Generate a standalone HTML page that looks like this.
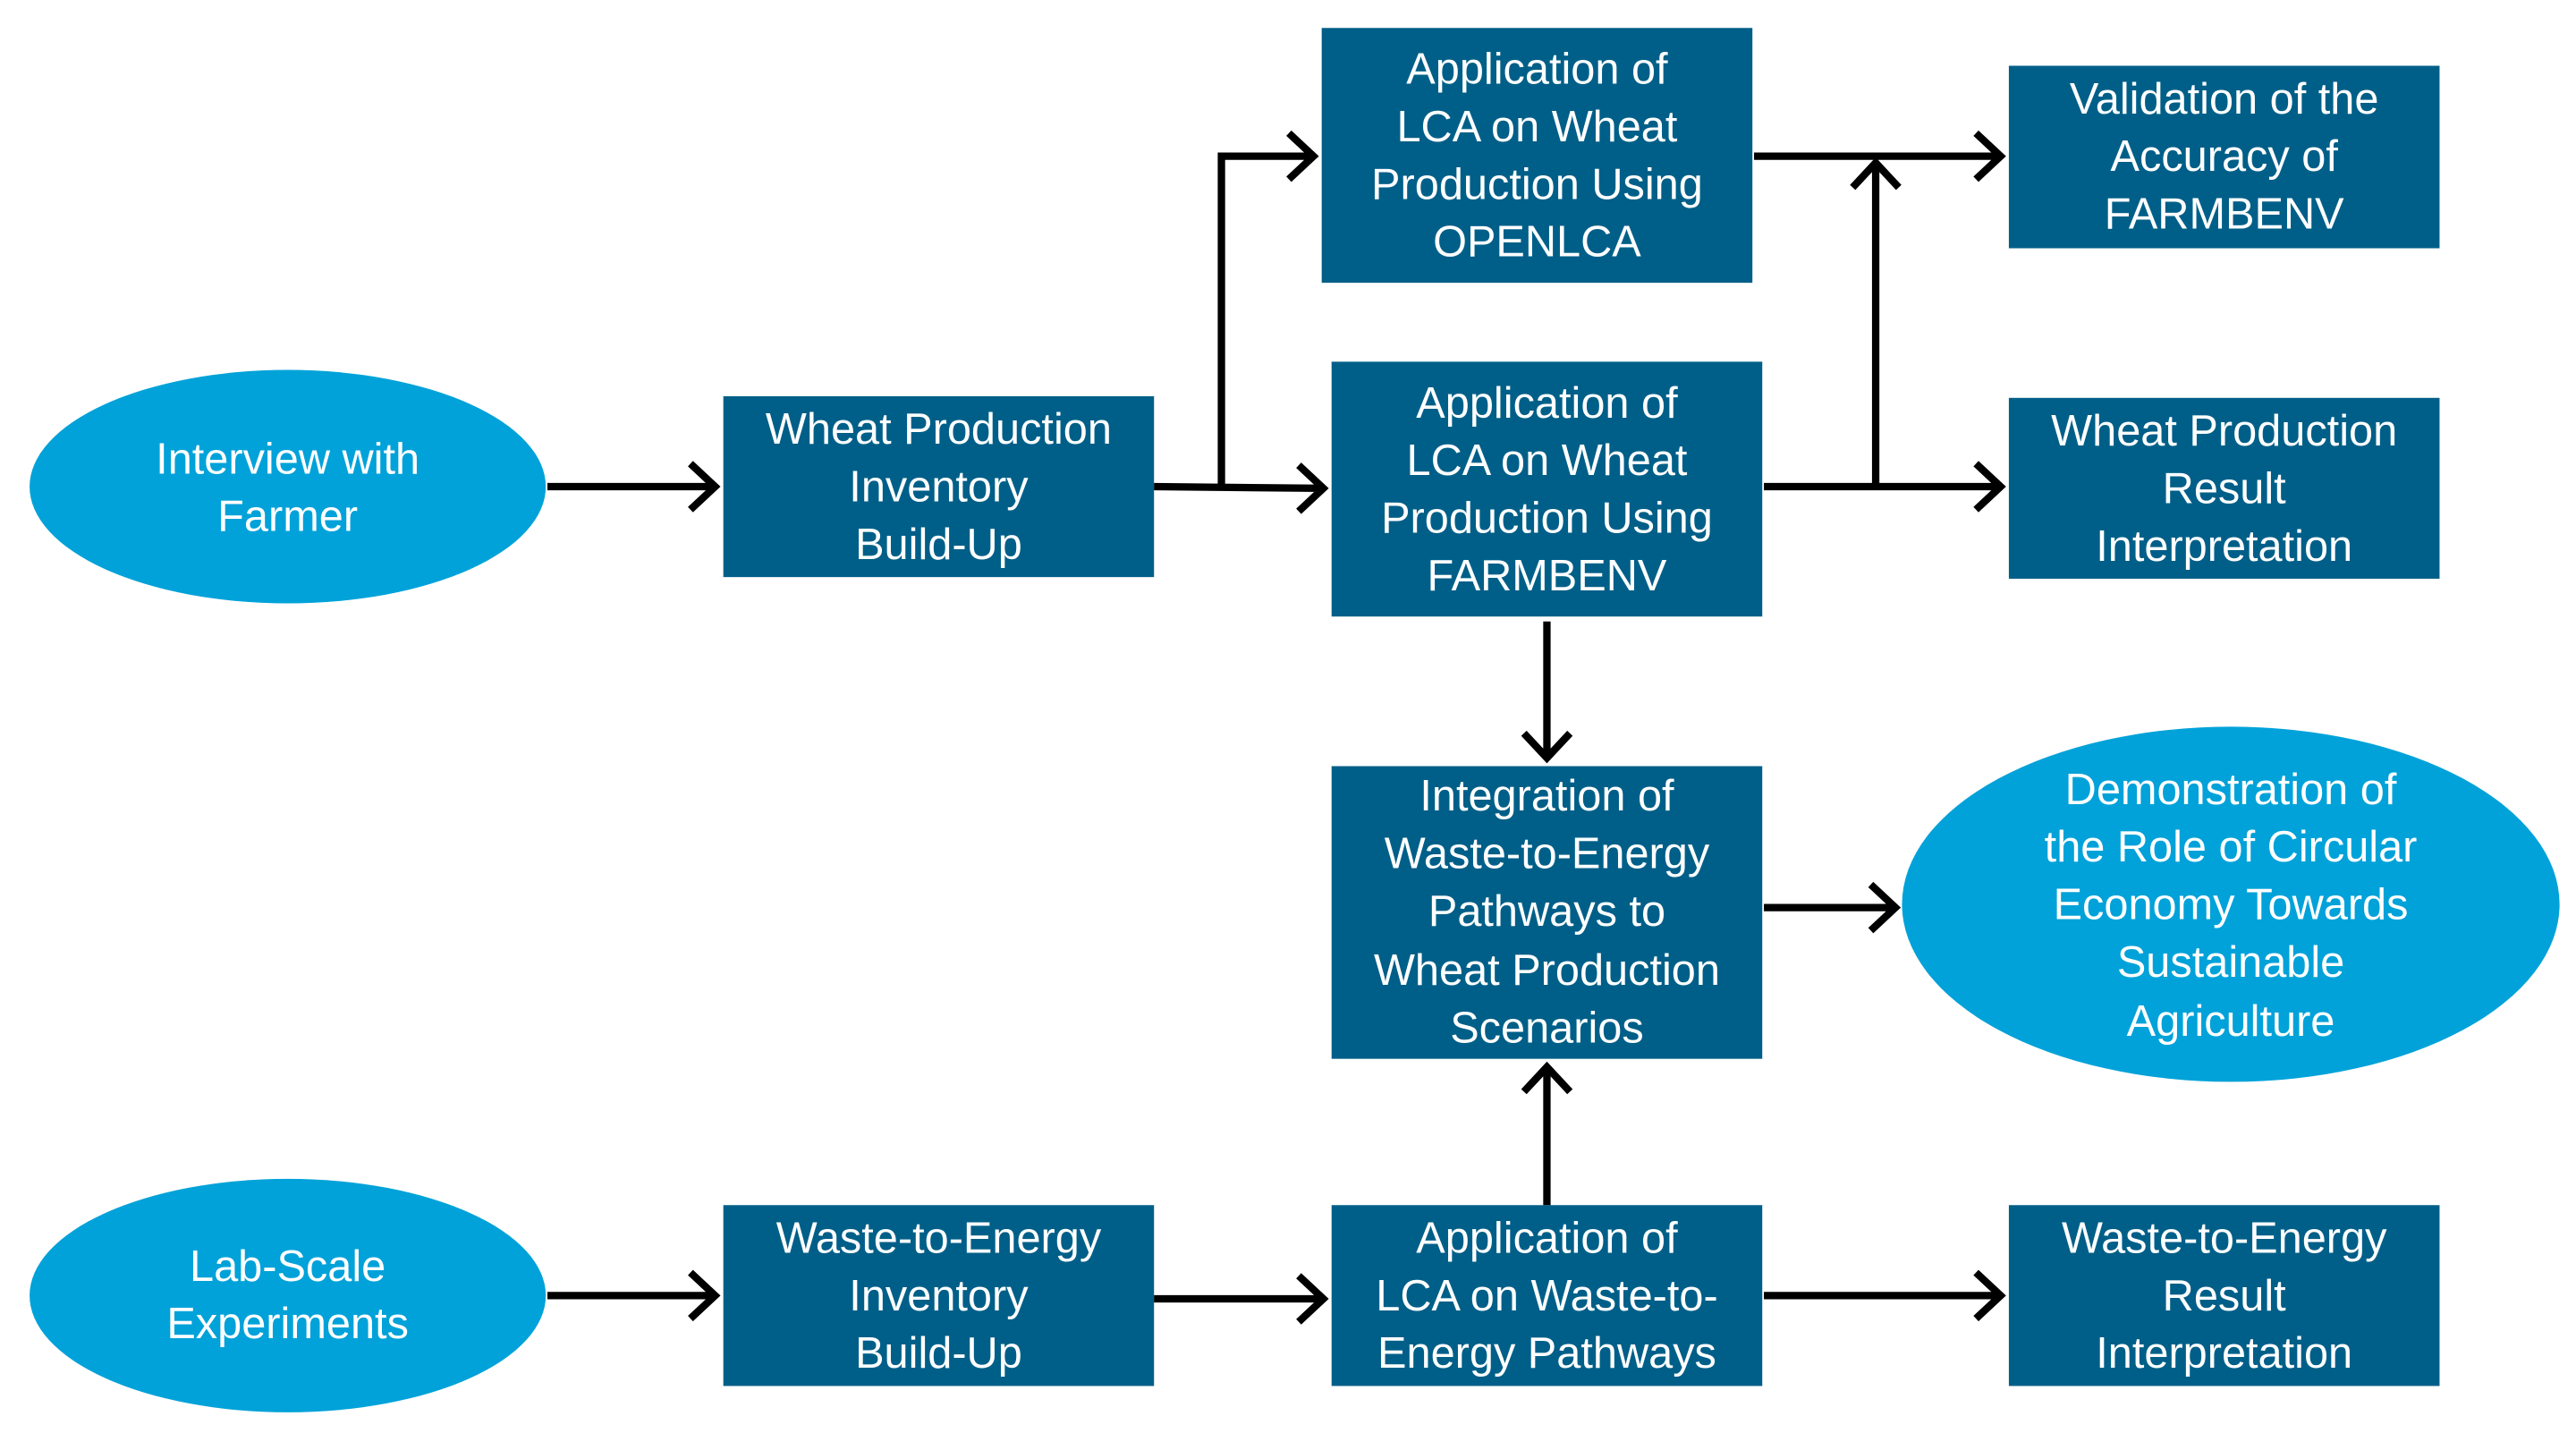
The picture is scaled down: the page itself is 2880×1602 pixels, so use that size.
<!DOCTYPE html>
<html><head><meta charset="utf-8"><style>
html,body{margin:0;padding:0;background:#fff;}
svg{display:block;}
text{font-family:"Liberation Sans",sans-serif;font-size:26.5px;fill:#fff;text-anchor:middle;}
</style></head><body>
<svg width="2880" height="1602" viewBox="0 0 1567 871.6" preserveAspectRatio="none">
<g fill="#005f88">
<rect x="804" y="17" width="262" height="155"/>
<rect x="810" y="220" width="262" height="155"/>
<rect x="440" y="241" width="262" height="110"/>
<rect x="1222" y="40" width="262" height="111"/>
<rect x="1222" y="242" width="262" height="110"/>
<rect x="810" y="466" width="262" height="178"/>
<rect x="440" y="733" width="262" height="110"/>
<rect x="810" y="733" width="262" height="110"/>
<rect x="1222" y="733" width="262" height="110"/>
</g>
<g fill="#00a2d9">
<ellipse cx="175" cy="296" rx="157" ry="71"/>
<ellipse cx="175" cy="788" rx="157" ry="71"/>
<ellipse cx="1357" cy="550" rx="200" ry="108"/>
</g>
<g stroke="#000" stroke-width="4.5" fill="none" stroke-linejoin="miter">
<path d="M333 296H434M420 282L435 296L420 310"/>
<path d="M702 296L804 297M790 283L805 297L790 311"/>
<path d="M743 296V95H798M784 81L799 95L784 109"/>
<path d="M1067 95H1216M1202 81L1217 95L1202 109"/>
<path d="M1073 296H1216M1202 282L1217 296L1202 310"/>
<path d="M1141 296V100M1127 114L1141 99L1155 114"/>
<path d="M941 378V460M927 446L941 461L955 446"/>
<path d="M1073 552H1152M1138 538L1153 552L1138 566"/>
<path d="M941 733V650M927 664L941 649L955 664"/>
<path d="M333 788H434M420 774L435 788L420 802"/>
<path d="M702 790H804M790 776L805 790L790 804"/>
<path d="M1073 788H1216M1202 774L1217 788L1202 802"/>
</g>
<text x="935" y="51">Application of</text>
<text x="935" y="86">LCA on Wheat</text>
<text x="935" y="121">Production Using</text>
<text x="935" y="156">OPENLCA</text>
<text x="941" y="254">Application of</text>
<text x="941" y="289">LCA on Wheat</text>
<text x="941" y="324">Production Using</text>
<text x="941" y="359">FARMBENV</text>
<text x="571" y="270">Wheat Production</text>
<text x="571" y="305">Inventory</text>
<text x="571" y="340">Build-Up</text>
<text x="1353" y="69">Validation of the</text>
<text x="1353" y="104">Accuracy of</text>
<text x="1353" y="139">FARMBENV</text>
<text x="1353" y="271">Wheat Production</text>
<text x="1353" y="306">Result</text>
<text x="1353" y="341">Interpretation</text>
<text x="941" y="493">Integration of</text>
<text x="941" y="528">Waste-to-Energy</text>
<text x="941" y="563">Pathways to</text>
<text x="941" y="599">Wheat Production</text>
<text x="941" y="634">Scenarios</text>
<text x="571" y="762">Waste-to-Energy</text>
<text x="571" y="797">Inventory</text>
<text x="571" y="832">Build-Up</text>
<text x="941" y="762">Application of</text>
<text x="941" y="797">LCA on Waste-to-</text>
<text x="941" y="832">Energy Pathways</text>
<text x="1353" y="762">Waste-to-Energy</text>
<text x="1353" y="797">Result</text>
<text x="1353" y="832">Interpretation</text>
<text x="175" y="288">Interview with</text>
<text x="175" y="323">Farmer</text>
<text x="175" y="779">Lab-Scale</text>
<text x="175" y="814">Experiments</text>
<text x="1357" y="489">Demonstration of</text>
<text x="1357" y="524">the Role of Circular</text>
<text x="1357" y="559">Economy Towards</text>
<text x="1357" y="594">Sustainable</text>
<text x="1357" y="630">Agriculture</text>
</svg>
</body></html>
